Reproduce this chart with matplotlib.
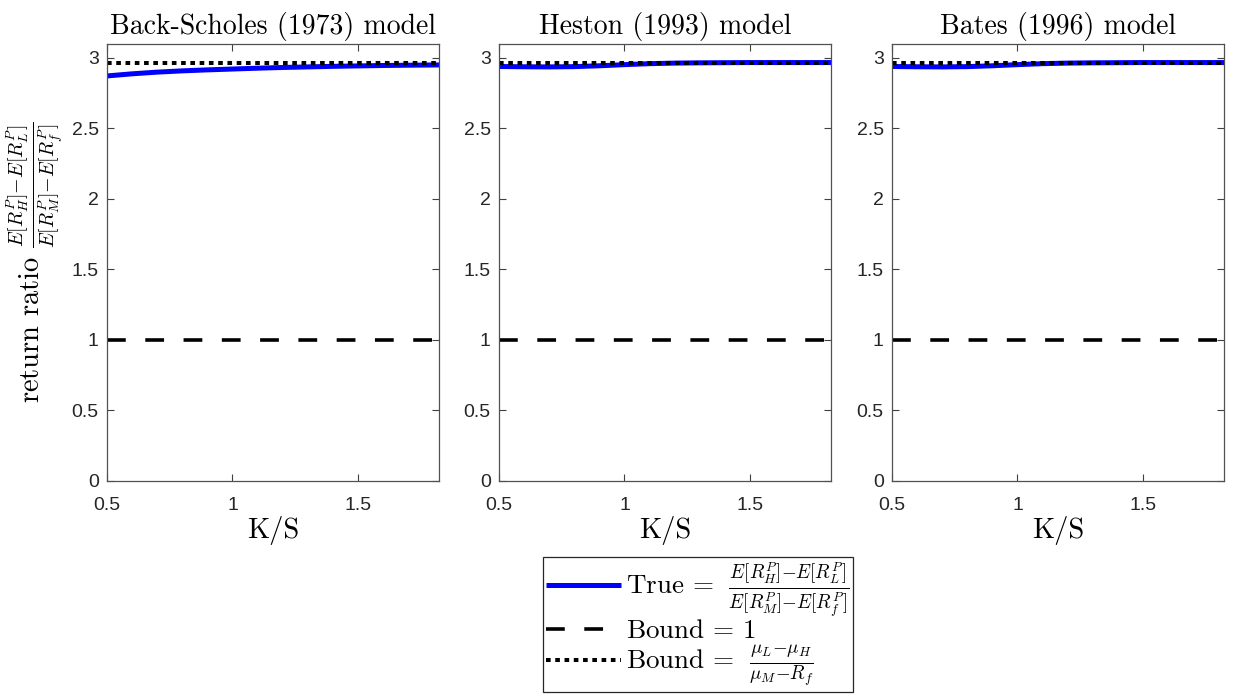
import matplotlib
matplotlib.use("Agg")
import matplotlib.pyplot as plt

plt.rcParams['mathtext.fontset'] = 'cm'
plt.rcParams['axes.unicode_minus'] = False
plt.rcParams['font.family'] = ['Liberation Sans', 'DejaVu Sans']

# ---- data ----
ks = [0.5, 0.6, 0.7, 0.8, 0.9, 1.0, 1.1, 1.2, 1.3, 1.4, 1.5, 1.6, 1.7, 1.823]
true_bs = [2.870, 2.885, 2.897, 2.906, 2.913, 2.919, 2.925, 2.930, 2.934, 2.938, 2.941, 2.944, 2.946, 2.948]
true_heston = [2.937, 2.935, 2.934, 2.936, 2.942, 2.950, 2.957, 2.961, 2.963, 2.964, 2.965, 2.965, 2.965, 2.965]
true_bates = [2.937, 2.935, 2.934, 2.936, 2.942, 2.950, 2.957, 2.961, 2.963, 2.964, 2.965, 2.965, 2.965, 2.965]
bound_one = [1.0] * len(ks)
bound_mu = [2.965] * len(ks)
titles = ['Back-Scholes (1973) model', 'Heston (1993) model', 'Bates (1996) model']
series = [true_bs, true_heston, true_bates]
yticks = [0, 0.5, 1, 1.5, 2, 2.5, 3]
yticklabels = ['0', '0.5', '1', '1.5', '2', '2.5', '3']
xticks = [0.5, 1, 1.5]
xticklabels = ['0.5', '1', '1.5']

W, H = 1233, 696
fig = plt.figure(figsize=(W / 100, H / 100), dpi=100)

lefts = [107, 499, 892]
ax_w = 332
top_px, bot_px = 43.5, 480.7
axes = []
for i, left in enumerate(lefts):
    ax = fig.add_axes([left / W, 1 - bot_px / H, ax_w / W, (bot_px - top_px) / H])
    axes.append(ax)
    l_true, = ax.plot(ks, series[i], color='#0000ff', lw=3.6, solid_capstyle='butt')
    l_one, = ax.plot(ks, bound_one, color='black', lw=2.6, dashes=(5.2, 5.4))
    l_mu, = ax.plot(ks, bound_mu, color='black', lw=2.9, dashes=(1.15, 1.15))
    ax.set_xlim(0.5, 1.823)
    ax.set_ylim(0, 3.1)
    ax.set_xticks(xticks)
    ax.set_xticklabels(xticklabels)
    ax.set_yticks(yticks)
    ax.set_yticklabels(yticklabels)
    ax.tick_params(direction='in', length=5, width=0.8, color='#404040',
                   top=True, right=True, labelcolor='#262626', labelsize=14)
    ax.tick_params(axis='x', pad=12)
    ax.tick_params(axis='y', pad=6)
    for sp in ax.spines.values():
        sp.set_color('#505050')
        sp.set_linewidth(0.9)
    ax.set_title(titles[i], fontfamily='cmr10', fontsize=20, pad=7)
    ax.set_xlabel('K/S', fontfamily='cmr10', fontsize=20.5, labelpad=1)

axes[0].set_ylabel(r'return ratio $\frac{E[R_H^P]{-}E[R_L^P]}{E[R_M^P]{-}E[R_f^P]}$',
                   fontfamily='cmr10', fontsize=20.5, labelpad=4)

handles = [l_true, l_one, l_mu]
labels = [r'True = $\;\frac{E[R_H^P]{-}E[R_L^P]}{E[R_M^P]{-}E[R_f^P]}\;$',
          r'Bound = $1$',
          r'Bound = $\;\frac{\mu_L{-}\mu_H}{\mu_M{-}R_f}$']
leg = fig.legend(handles, labels, loc='lower left',
                 bbox_to_anchor=(543 / W, 4 / H),
                 prop={'family': 'cmr10', 'size': 19.5},
                 handlelength=2.75, handletextpad=0.2, borderpad=0.12,
                 labelspacing=0.0, borderaxespad=0, fancybox=False,
                 edgecolor='#262626', framealpha=1)
leg.get_frame().set_linewidth(0.9)

fig.savefig('out.png', dpi=100)
